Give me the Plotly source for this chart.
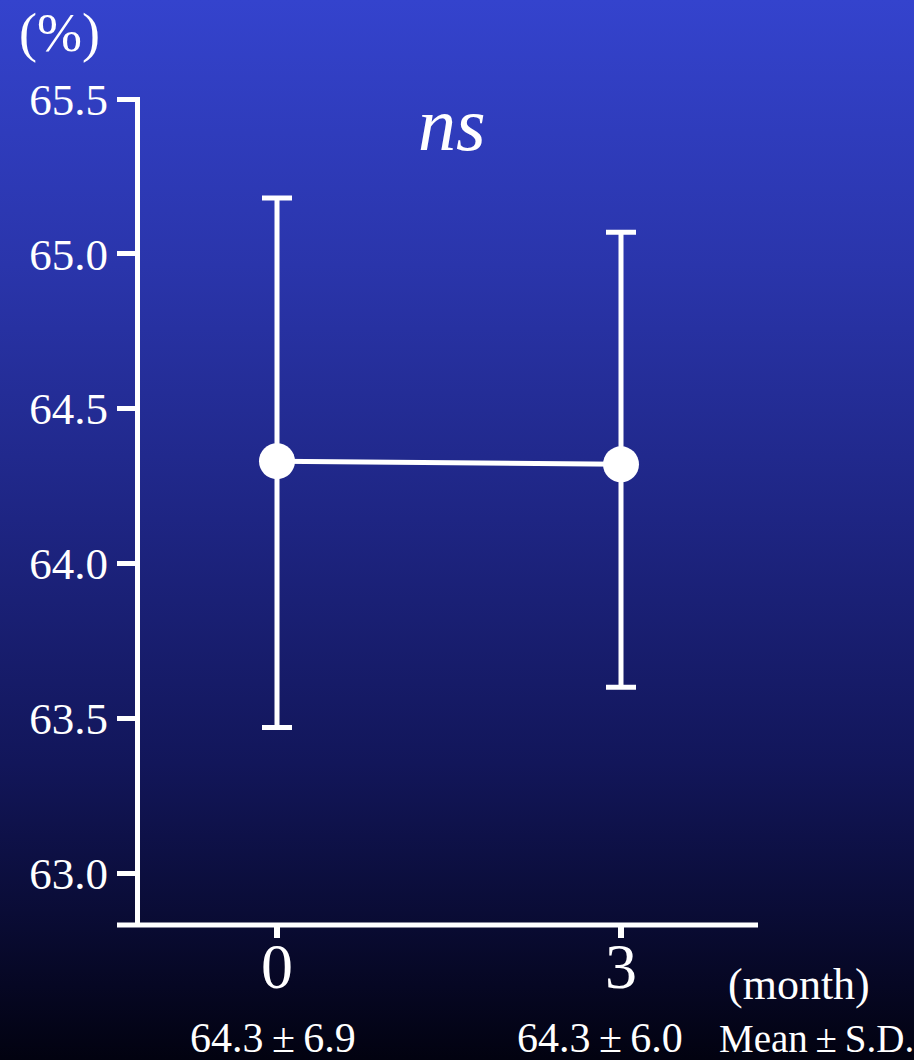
import base64
import plotly.graph_objects as go

# ---- data ----
months = [0, 3]
month_labels = ["0", "3"]
means = [64.33, 64.32]
upper = [65.18, 65.07]
lower = [63.47, 63.60]
summary_text = ["64.3\u2009±\u20096.9", "64.3\u2009±\u20096.0"]
y_ticks = [63.0, 63.5, 64.0, 64.5, 65.0, 65.5]
y_tick_labels = ["63.0", "63.5", "64.0", "64.5", "65.0", "65.5"]

W, H = 914, 1060
L, R, T, B = 137, 157, 99, 135
PW, PH = W - L - R, H - T - B

def px(x):
    return (x - L) / PW

def py(y):
    return (H - B - y) / PH

FONT = "Liberation Serif, DejaVu Serif, serif"

err_plus = [u - m for u, m in zip(upper, means)]
err_minus = [m - l for m, l in zip(means, lower)]

fig = go.Figure()
fig.add_trace(go.Scatter(
    x=months, y=means, mode="lines+markers",
    line=dict(color="white", width=5),
    marker=dict(color="white", size=36),
    error_y=dict(type="data", array=err_plus, arrayminus=err_minus,
                 color="white", thickness=5, width=15),
    showlegend=False, hoverinfo="skip",
))

# gradient background as SVG image
svg = (
    '<svg xmlns="http://www.w3.org/2000/svg" width="914" height="1060" preserveAspectRatio="none">'
    '<defs><linearGradient id="g" x1="0" y1="0" x2="0" y2="1">'
    '<stop offset="0" stop-color="#3443cd"/>'
    '<stop offset="0.25" stop-color="#2a35ab"/>'
    '<stop offset="0.49" stop-color="#1e2583"/>'
    '<stop offset="0.72" stop-color="#12165a"/>'
    '<stop offset="0.86" stop-color="#0a0c36"/>'
    '<stop offset="1" stop-color="#020210"/>'
    '</linearGradient></defs>'
    '<rect width="914" height="1060" fill="url(#g)"/></svg>'
)
src = "data:image/svg+xml;base64," + base64.b64encode(svg.encode()).decode()
fig.add_layout_image(dict(
    source=src, xref="paper", yref="paper",
    x=px(0), y=py(0), sizex=W / PW, sizey=H / PH,
    xanchor="left", yanchor="top", sizing="stretch", layer="below",
))

# x axis line extending left of y axis
fig.add_shape(type="line", xref="paper", yref="paper",
              x0=px(117), x1=px(758), y0=py(925), y1=py(925),
              line=dict(color="white", width=5))
# y axis line
fig.add_shape(type="line", xref="paper", yref="paper",
              x0=px(137.5), x1=px(137.5), y0=py(97), y1=py(925),
              line=dict(color="white", width=5))

ann = []
ann.append(dict(text="(%)", x=px(59), y=py(33), xref="paper", yref="paper",
                showarrow=False, font=dict(family=FONT, size=54, color="white"),
                xanchor="center", yanchor="middle"))
ann.append(dict(text="<i>ns</i>", x=px(452), y=py(124), xref="paper", yref="paper",
                showarrow=False, font=dict(family=FONT, size=76, color="white"),
                xanchor="center", yanchor="middle"))
ann.append(dict(text="(month)", x=px(799), y=py(984), xref="paper", yref="paper",
                showarrow=False, font=dict(family=FONT, size=44, color="white"),
                xanchor="center", yanchor="middle"))
ann.append(dict(text="Mean\u2009±\u2009S.D.", x=px(816), y=py(1038), xref="paper", yref="paper",
                showarrow=False, font=dict(family=FONT, size=39, color="white"),
                xanchor="center", yanchor="middle"))
for cx, t in zip([273, 600], summary_text):
    ann.append(dict(text=t, x=px(cx), y=py(1038), xref="paper", yref="paper",
                    showarrow=False, font=dict(family=FONT, size=42, color="white"),
                    xanchor="center", yanchor="middle"))
# month tick labels placed on the data x scale
for m, lab in zip(months, month_labels):
    ann.append(dict(text=lab, x=m, y=py(966), xref="x", yref="paper",
                    showarrow=False, font=dict(family=FONT, size=64, color="white"),
                    xanchor="center", yanchor="middle"))

x0 = -(277 - L) / (344 / 3)
x1 = 3 + (757 - 621) / (344 / 3)
yscale = (873 - 99) / 2.5
y_bottom = 63.0 - (925 - 873) / yscale

fig.update_layout(
    width=W, height=H,
    margin=dict(l=L, r=R, t=T, b=B, pad=0),
    paper_bgcolor="#151a6a", plot_bgcolor="rgba(0,0,0,0)",
    annotations=ann,
    xaxis=dict(range=[x0, x1], showgrid=False, zeroline=False, showline=False,
               tickvals=months, showticklabels=False, ticks="outside",
               ticklen=12, tickwidth=6, tickcolor="white"),
    yaxis=dict(range=[y_bottom, 65.5], showgrid=False, zeroline=False, showline=False,
               tickvals=y_ticks, ticktext=y_tick_labels, ticks="outside",
               ticklen=19, tickwidth=5, tickcolor="white",
               tickfont=dict(family=FONT, size=45, color="white")),
)
fig.write_html(
    "out.html",
    config={"displayModeBar": False},
    post_script="document.body.style.margin='0';document.body.style.padding='0';"
                "document.body.style.background='#020210';"
                "document.documentElement.style.overflow='hidden';",
)
